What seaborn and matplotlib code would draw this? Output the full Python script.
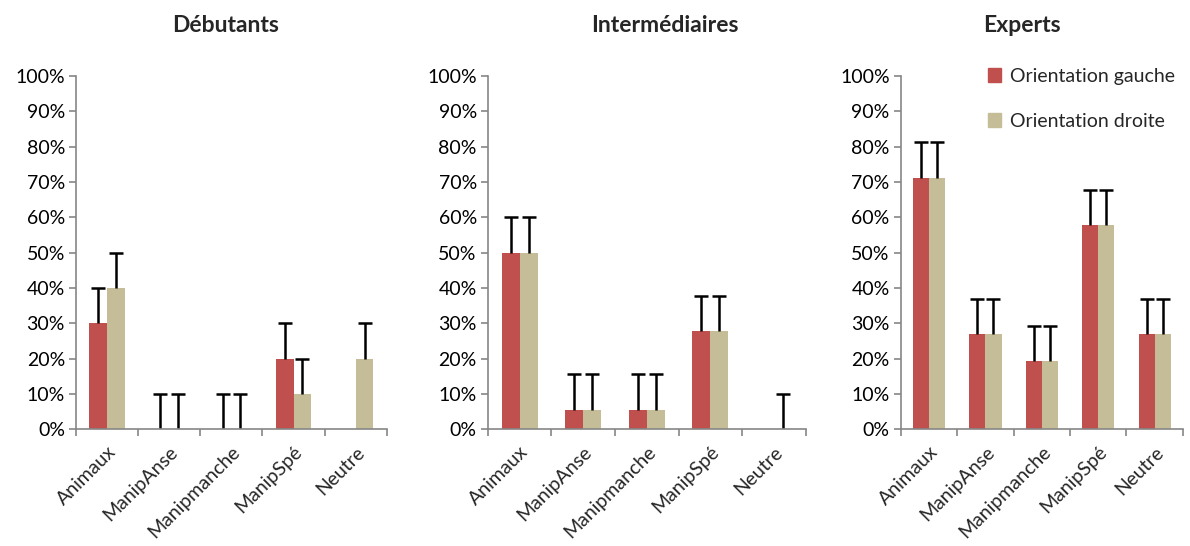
import pandas as pd
import numpy as np
import matplotlib
matplotlib.use('Agg')
import matplotlib.pyplot as plt
import matplotlib.patches as mpatches
from matplotlib.ticker import PercentFormatter, FixedLocator
import seaborn as sns

categories = ['Animaux', 'ManipAnse', 'Manipmanche', 'ManipSpé', 'Neutre']
series = ['Orientation gauche', 'Orientation droite']
panels = ['Débutants', 'Intermédiaires', 'Experts']

# valeurs en %
deb_gauche = [30, 0, 0, 20, 0]
deb_droite = [40, 0, 0, 10, 20]
int_gauche = [50, 5.6, 5.6, 27.8, 0]
int_droite = [50, 5.6, 5.6, 27.8, 0]
exp_gauche = [71.2, 26.9, 19.2, 57.7, 26.9]
exp_droite = [71.2, 26.9, 19.2, 57.7, 26.9]

# barres d'erreur (vers le haut seulement), None = pas de barre
deb_err_g = [10, 10, 10, 10, None]
deb_err_d = [10, 10, 10, 10, 10]
int_err_g = [10, 10, 10, 10, None]
int_err_d = [10, 10, 10, 10, 10]
exp_err_g = [10, 10, 10, 10, 10]
exp_err_d = [10, 10, 10, 10, 10]

values = [(deb_gauche, deb_droite), (int_gauche, int_droite), (exp_gauche, exp_droite)]
errors = [(deb_err_g, deb_err_d), (int_err_g, int_err_d), (exp_err_g, exp_err_d)]

couleurs = ['#C0504D', '#C4BD97']

sns.set_style('white')
plt.rcParams['font.family'] = ['Lato', 'DejaVu Sans']

fig = plt.figure(figsize=(11.9, 5.46), dpi=100)

positions = [(0.0639, 0.325), (0.410, 0.677), (0.757, 0.994)]
title_x = [226, 665, 1022]
bottom, top = 0.2137, 0.861
fs = 14

for k in range(3):
    l, r = positions[k]
    ax = fig.add_axes([l, bottom, r - l, top - bottom])
    g, d = values[k]
    df = pd.DataFrame({
        'cat': categories * 2,
        'val': [v / 100 for v in g] + [v / 100 for v in d],
        'serie': [series[0]] * 5 + [series[1]] * 5,
    })
    sns.barplot(data=df, x='cat', y='val', hue='serie', palette=couleurs,
                width=0.57, ax=ax, legend=False, errorbar=None, saturation=1,
                linewidth=0)

    bar_conts = list(ax.containers)
    for i, cont in enumerate(bar_conts):
        errs = errors[k][i]
        for p, e in zip(cont.patches, errs):
            if e is None:
                continue
            xc = p.get_x() + p.get_width() / 2
            h = p.get_height()
            eb = ax.errorbar([xc], [h], yerr=[[0], [e / 100]], fmt='none',
                             ecolor='black', elinewidth=1.8, capsize=5, capthick=1.8)
            eb[1][0].set_visible(False)  # pas de chapeau en bas

    ax.set_ylim(0, 1)
    ax.set_xlim(-0.5, 4.5)
    ax.yaxis.set_major_locator(FixedLocator(np.arange(0, 1.01, 0.1)))
    ax.yaxis.set_major_formatter(PercentFormatter(1.0, decimals=0))
    ax.set_xlabel('')
    ax.set_ylabel('')
    for s in ['top', 'right']:
        ax.spines[s].set_visible(False)
    for s in ['left', 'bottom']:
        ax.spines[s].set_color('#868686')
        ax.spines[s].set_linewidth(1.2)
    ax.tick_params(axis='y', length=5, width=1.2, color='#868686', labelsize=fs,
                   labelcolor='black', left=True, direction='out', pad=3)
    ax.tick_params(axis='x', which='major', length=0, labelsize=fs, pad=10)
    ax.xaxis.set_minor_locator(FixedLocator(np.arange(-0.5, 4.6, 1)))
    ax.tick_params(axis='x', which='minor', length=5, width=1.2, color='#868686',
                   bottom=True, direction='out')
    plt.setp(ax.get_xticklabels(), rotation=45, ha='right', rotation_mode='anchor')

    fig.text(title_x[k] / 1190, (546 - 25) / 546, panels[k], ha='center', va='center',
             fontsize=16.5, fontweight='bold')

    if k == 2:
        handles = [mpatches.Patch(color=c, label=s) for c, s in zip(couleurs, series)]
        ax.legend(handles=handles, loc='upper left', bbox_to_anchor=(0.28, 1.045),
                  frameon=False, fontsize=fs, labelspacing=1.45, handlelength=0.7,
                  handleheight=0.7, handletextpad=0.45, borderaxespad=0)

fig.savefig('out.png', dpi=100)
